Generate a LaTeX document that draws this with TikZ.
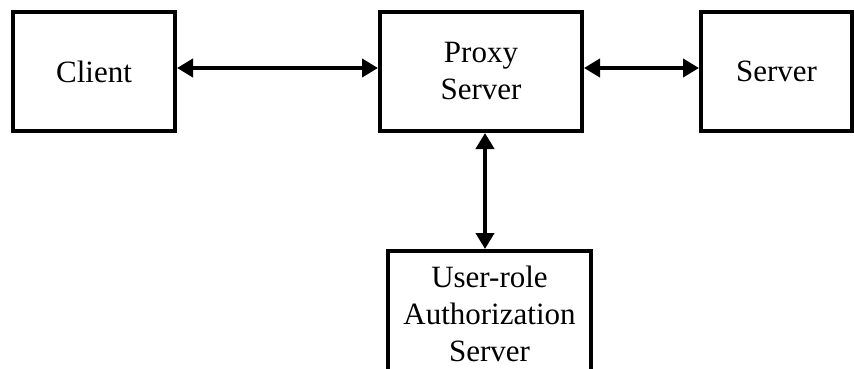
\documentclass[tikz,border=0pt]{standalone}
\usepackage{fontspec}
\setmainfont{Liberation Serif}
\usetikzlibrary{arrows.meta}
\begin{document}
\begin{tikzpicture}[x=1pt,y=1pt,
  box/.style={draw=black, line width=4pt, rectangle, align=center,
    font=\fontsize{31}{37}\selectfont, inner sep=0pt},
  link/.style={line width=4pt, {Triangle[length=16pt,width=18pt]}-{Triangle[length=16pt,width=18pt]}}]
  \clip (0,0) rectangle (854,-369);
  \fill[white] (0,0) rectangle (854,-369);

  \node[box, minimum width=162pt, minimum height=119pt] (client) at (94,-71.5) {Client};
  \node[box, minimum width=202pt, minimum height=119pt] (proxy) at (481,-71.5) {Proxy\\Server};
  \node[box, minimum width=151pt, minimum height=119pt] (server) at (776.5,-71.5) {Server};
  \node[box, minimum width=203pt, minimum height=126pt] (auth) at (489.5,-314) {User-role\\Authorization\\Server};

  \draw[link] ([yshift=3.5pt]client.east) -- ([yshift=3.5pt]client.east -| proxy.west);
  \draw[link] ([yshift=3.5pt]proxy.east) -- ([yshift=3.5pt]proxy.east -| server.west);
  \draw[link] ([xshift=4pt]proxy.south) -- ([xshift=4pt]proxy.south |- auth.north);
\end{tikzpicture}
\end{document}
